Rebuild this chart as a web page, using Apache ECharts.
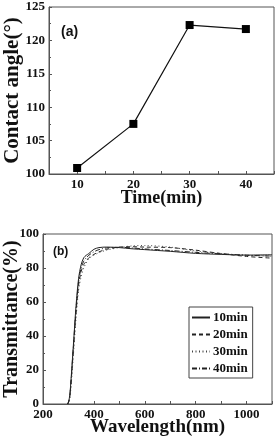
<!DOCTYPE html>
<html>
<head>
<meta charset="utf-8">
<script src="https://cdn.jsdelivr.net/npm/echarts@6/dist/echarts.min.js"></script>
<style>
  html, body { margin: 0; padding: 0; background: #fff; }
  #chart { width: 276px; height: 437px; }
</style>
</head>
<body>
<div id="chart"></div>
<script>
// (a) contact angle vs time
const times = [10, 20, 30, 40];
const contactAngle = [100.9, 107.5, 122.3, 121.7];

// (b) transmittance spectra
const wavelengths = [295, 300, 305, 310, 320, 330, 340, 350, 360, 370, 380, 400, 420, 450, 500, 550, 600, 700, 800, 900, 1000, 1100];
const trans10 = [0, 1, 5, 14, 36, 58, 74, 82, 86, 87.5, 88.5, 91, 92, 92.3, 92, 91.3, 90.8, 89.8, 88.6, 88, 87.6, 87.8];
const trans20 = [0, 1, 4, 12, 33, 54, 70, 78, 82, 84, 86, 88, 89.5, 91, 92.3, 92.5, 92.3, 92, 90.5, 88.5, 86.8, 85.8];
const trans30 = [0, 0.5, 3, 10, 30, 51, 67, 75, 80, 83, 85.5, 87.5, 89, 90.5, 92, 93, 93.2, 92.3, 90, 88.5, 87.5, 87];
const trans40 = [0, 1, 4, 13, 35, 56, 72, 80, 84, 86, 87.5, 89.5, 90.8, 91.8, 92.2, 91.8, 91.2, 90.3, 89.2, 88.3, 87.5, 87];
const legendNames = ['10min', '20min', '30min', '40min'];

const serif = '"Liberation Serif", "DejaVu Serif", serif';
const pairs = (xs, ys) => xs.map((x, i) => [x, ys[i]]);

const axisCommon = {
    axisLine: { lineStyle: { color: '#555', width: 1 } },
    axisTick: { inside: true, length: 3, lineStyle: { color: '#555' } },
    minorTick: { show: true, splitNumber: 2, length: 2, lineStyle: { color: '#555' } },
    splitLine: { show: false },
    axisLabel: { fontFamily: serif, fontWeight: 'bold', fontSize: 13, color: '#111', margin: 4 },
    nameTextStyle: { fontFamily: serif, fontWeight: 'bold', fontSize: 18, color: '#111' },
    nameLocation: 'middle',
    nameMoveOverlap: false
};

const chart = echarts.init(document.getElementById('chart'), null, { renderer: 'canvas' });

const option = {
    backgroundColor: '#fff',
    animation: false,
    grid: [
        { left: 49, top: 7, width: 225, height: 167, show: true, borderColor: '#555', borderWidth: 1, outerBoundsMode: 'none' },
        { left: 43, top: 234, width: 229, height: 170, show: true, borderColor: '#555', borderWidth: 1, outerBoundsMode: 'none' }
    ],
    xAxis: [
        Object.assign({}, axisCommon, {
            gridIndex: 0, type: 'value', min: 5, max: 45, interval: 5,
            name: 'Time(min)', nameGap: 15,
            axisLabel: Object.assign({}, axisCommon.axisLabel, {
                formatter: v => (v % 10 === 0 ? String(v) : '')
            }),
            minorTick: { show: false }
        }),
        Object.assign({}, axisCommon, {
            gridIndex: 1, type: 'value', min: 200, max: 1100, interval: 100,
            name: 'Wavelength(nm)', nameGap: 14,
            nameTextStyle: Object.assign({}, axisCommon.nameTextStyle, { fontSize: 19 }),
            axisLabel: Object.assign({}, axisCommon.axisLabel, {
                formatter: v => (v % 200 === 0 ? String(v) : '')
            }),
            minorTick: { show: false }
        })
    ],
    yAxis: [
        Object.assign({}, axisCommon, {
            gridIndex: 0, type: 'value', min: 100, max: 125, interval: 5,
            name: 'Contact angle(°)', nameGap: 26,
            nameTextStyle: Object.assign({}, axisCommon.nameTextStyle, { fontSize: 21 })
        }),
        Object.assign({}, axisCommon, {
            gridIndex: 1, type: 'value', min: 0, max: 100, interval: 20,
            name: 'Transmittance(%)', nameGap: 21,
            nameTextStyle: Object.assign({}, axisCommon.nameTextStyle, { fontSize: 20 })
        })
    ],
    legend: {
        data: legendNames,
        orient: 'vertical',
        left: 189, top: 307,
        itemWidth: 18, itemHeight: 10, itemGap: 4,
        padding: [4, 5, 3, 2],
        borderColor: '#444', borderWidth: 1,
        itemStyle: { opacity: 0 },
        textStyle: { fontFamily: serif, fontWeight: 'bold', fontSize: 13, color: '#111', padding: [0, 0, 0, -2] }
    },
    graphic: [
        { type: 'text', left: 61, top: 25, style: { text: '(a)', font: 'bold 14px "Liberation Sans", Arial, sans-serif', fill: '#111' } },
        { type: 'text', left: 53, top: 246, style: { text: '(b)', font: 'bold 12px "Liberation Sans", Arial, sans-serif', fill: '#111' } }
    ],
    series: [
        {
            type: 'line', xAxisIndex: 0, yAxisIndex: 0,
            data: pairs(times, contactAngle),
            symbol: 'rect', symbolSize: 8,
            itemStyle: { color: '#000' },
            lineStyle: { color: '#111', width: 1.2 }
        },
        {
            name: '10min', type: 'line', xAxisIndex: 1, yAxisIndex: 1,
            data: pairs(wavelengths, trans10), symbol: 'none', smooth: 0.3,
            itemStyle: { color: '#222' },
            lineStyle: { color: '#222', width: 1, type: 'solid' }
        },
        {
            name: '20min', type: 'line', xAxisIndex: 1, yAxisIndex: 1,
            data: pairs(wavelengths, trans20), symbol: 'none', smooth: 0.3,
            itemStyle: { color: '#222' },
            lineStyle: { color: '#222', width: 1, type: [4, 3] }
        },
        {
            name: '30min', type: 'line', xAxisIndex: 1, yAxisIndex: 1,
            data: pairs(wavelengths, trans30), symbol: 'none', smooth: 0.3,
            itemStyle: { color: '#444' },
            lineStyle: { color: '#444', width: 1, type: [1, 2.5] }
        },
        {
            name: '40min', type: 'line', xAxisIndex: 1, yAxisIndex: 1,
            data: pairs(wavelengths, trans40), symbol: 'none', smooth: 0.3,
            itemStyle: { color: '#222' },
            lineStyle: { color: '#222', width: 1, type: [5, 2, 1, 2] }
        }
    ]
};

chart.setOption(option);
</script>
</body>
</html>
